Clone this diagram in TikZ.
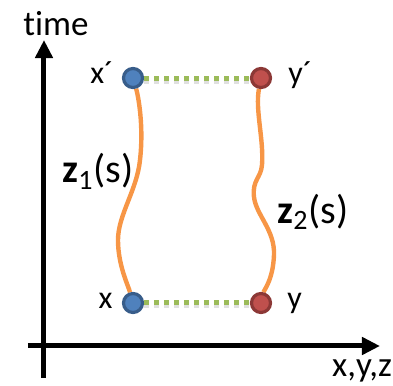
\documentclass[tikz,border=0pt]{standalone}
\usepackage{fontspec}
\setmainfont{Carlito}[Ligatures=NoCommon]
\usetikzlibrary{arrows.meta,backgrounds}
\definecolor{lineOrange}{HTML}{F79646}
\definecolor{linkGreen}{HTML}{9BBB59}
\definecolor{evBlue}{HTML}{4F81BD}
\definecolor{evBlueDark}{HTML}{385D8A}
\definecolor{evRed}{HTML}{C0504D}
\definecolor{evRedDark}{HTML}{8C3836}

\begin{document}
\begin{tikzpicture}[x=0.5pt,y=-0.5pt,
  axis/.style={line width=2.5pt, -{Triangle[length=9pt,width=8.5pt]}},
  event/.style={circle, inner sep=0pt, minimum size=9.5pt, line width=1.6pt},
  evb/.style={event, draw=evBlueDark, fill=evBlue},
  evr/.style={event, draw=evRedDark, fill=evRed},
  lbl/.style={font=\fontsize{16}{18}\selectfont, inner sep=0pt,
    text height=0.75em, text depth=0.2em},
  zlbl/.style={font=\fontsize{20}{22}\selectfont, anchor=base west, inner sep=0pt},
  worldline/.style={lineOrange, line width=2.2pt},
  link/.style={linkGreen, line width=2.5pt, dash pattern=on 2.5pt off 2.5pt}]
  \useasboundingbox (0,0) rectangle (393,386);

  % axes
  \coordinate (tbot) at (44,378);
  \coordinate (ttop) at (44,40);
  \coordinate (sleft) at (28,346);
  \coordinate (sright) at (380,346);
  \draw[axis] (tbot) -- (ttop);
  \draw[axis] (sleft) -- (sright);
  \node[lbl, font=\fontsize{17.5}{20}\selectfont, anchor=base] (tlab) at (56,35) {time};
  \node[lbl, font=\fontsize{17.5}{20}\selectfont, anchor=base] (slab) at (362,377) {x,y,z};

  % events
  \node[evb, label={[lbl,label distance=4pt]left:x´}] (xp) at (133,78) {};
  \node[evr, label={[lbl,label distance=8pt]right:y´}] (yp) at (261,78) {};
  \node[evb, label={[lbl,label distance=4.5pt]left:x}] (x) at (133,303) {};
  \node[evr, label={[lbl,label distance=7.5pt]right:y}] (y) at (261,303) {};

  \begin{scope}[on background layer]
    \draw[worldline] (xp) .. controls (138,95) and (144,125) .. (140,160)
      .. controls (137,190) and (118,215) .. (118,240)
      .. controls (118,265) and (128,285) .. (x);
    \draw[worldline] (yp) .. controls (255,110) and (264,140) .. (262,165)
      .. controls (261,178) and (252,180) .. (254,197)
      .. controls (256,215) and (275,230) .. (274,255)
      .. controls (273,280) and (264,290) .. (y);
    \draw[link, black, opacity=0.12, transform canvas={yshift=-1.5pt}] (xp) -- (yp);
    \draw[link, black, opacity=0.12, transform canvas={yshift=-1.5pt}] (x) -- (y);
  \end{scope}
  \draw[link] (xp) -- (yp);
  \draw[link] (x) -- (y);

  \node[zlbl] (z1) at (62,183) {\textbf{z}\textsubscript{1}(s)};
  \node[zlbl] (z2) at (277,223) {\textbf{z}\textsubscript{2}(s)};
\end{tikzpicture}
\end{document}
